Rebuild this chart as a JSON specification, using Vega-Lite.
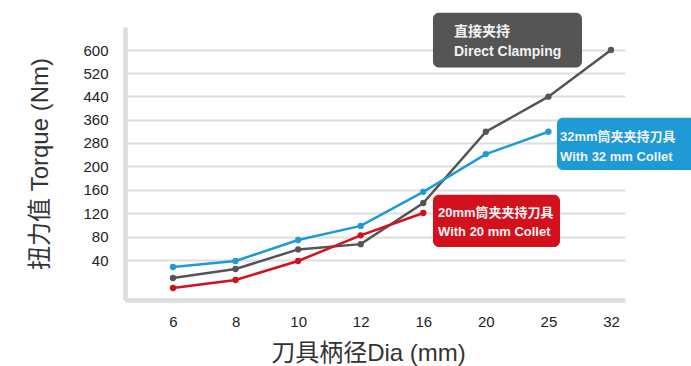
{
  "$schema": "https://vega.github.io/schema/vega-lite/v6.json",
  "width": 500,
  "height": 273,
  "autosize": "none",
  "padding": {"left": 125, "top": 27, "right": 66, "bottom": 66},
  "background": "white",
  "config": {
    "view": {"stroke": null},
    "axis": {"labelFont": "Liberation Sans, Noto Sans CJK SC", "titleFont": "Liberation Sans, Noto Sans CJK SC"}
  },
  "datasets": {
    "torque": [
      {"dia": "6", "i": 0, "series": "direct", "torque": 22},
      {"dia": "8", "i": 1, "series": "direct", "torque": 31},
      {"dia": "10", "i": 2, "series": "direct", "torque": 58},
      {"dia": "12", "i": 3, "series": "direct", "torque": 67},
      {"dia": "16", "i": 4, "series": "direct", "torque": 137},
      {"dia": "20", "i": 5, "series": "direct", "torque": 318},
      {"dia": "25", "i": 6, "series": "direct", "torque": 439},
      {"dia": "32", "i": 7, "series": "direct", "torque": 600},
      {"dia": "6", "i": 0, "series": "c20", "torque": 12},
      {"dia": "8", "i": 1, "series": "c20", "torque": 20},
      {"dia": "10", "i": 2, "series": "c20", "torque": 39},
      {"dia": "12", "i": 3, "series": "c20", "torque": 82},
      {"dia": "16", "i": 4, "series": "c20", "torque": 120},
      {"dia": "6", "i": 0, "series": "c32", "torque": 33},
      {"dia": "8", "i": 1, "series": "c32", "torque": 39},
      {"dia": "10", "i": 2, "series": "c32", "torque": 74},
      {"dia": "12", "i": 3, "series": "c32", "torque": 98},
      {"dia": "16", "i": 4, "series": "c32", "torque": 156},
      {"dia": "20", "i": 5, "series": "c32", "torque": 241},
      {"dia": "25", "i": 6, "series": "c32", "torque": 318}
    ],
    "boxes": [
      {"series": "direct", "x1": 4.155, "x2": 6.537, "y1": 540, "y2": 728},
      {"series": "c32", "x1": 6.137, "x2": 8.6, "y1": 193, "y2": 366},
      {"series": "c20", "x1": 4.155, "x2": 6.185, "y1": 62, "y2": 151}
    ],
    "labels": [
      {"series": "direct", "x": 4.491, "y": 662, "text": "直接夹持", "size": 14},
      {"series": "direct", "x": 4.491, "y": 593, "text": "Direct Clamping", "size": 14},
      {"series": "c32", "x": 6.185, "y": 300, "text": "32mm筒夹夹持刀具", "size": 13},
      {"series": "c32", "x": 6.185, "y": 231, "text": "With 32 mm Collet", "size": 13},
      {"series": "c20", "x": 4.235, "y": 120, "text": "20mm筒夹夹持刀具", "size": 13},
      {"series": "c20", "x": 4.235, "y": 88, "text": "With 20 mm Collet", "size": 13}
    ]
  },
  "layer": [
    {
      "data": {"name": "torque"},
      "mark": {"type": "line", "strokeWidth": 2.5},
      "encoding": {
        "x": {
          "field": "i", "type": "quantitative",
          "scale": {"domain": [-0.767, 7.224], "nice": false, "zero": false},
          "axis": {
            "values": [0, 1, 2, 3, 4, 5, 6, 7], "tickCount": 20,
            "labelExpr": "['6','8','10','12','16','20','25','32'][datum.value]",
            "grid": false, "ticks": false, "tickSize": 0,
            "domainColor": "#dddddd", "domainWidth": 4.5,
            "labelFontSize": 15, "labelColor": "#222222", "labelPadding": 14,
            "title": "刀具柄径Dia (mm)", "titleFontSize": 24, "titleFontWeight": "normal",
            "titleColor": "#333333", "titleX": 243, "titleY": 53, "titleAnchor": "middle", "titleAlign": "center", "titleBaseline": "middle"
          }
        },
        "y": {
          "field": "torque", "type": "quantitative",
          "scale": {"domain": [0, 40, 200, 600, 679], "range": [273, 233, 139, 23, 0], "nice": false, "zero": false},
          "axis": {
            "values": [40, 80, 120, 160, 200, 280, 360, 440, 520, 600], "tickCount": 20,
            "labelOverlap": false,
            "grid": true, "gridColor": "#dedede", "gridWidth": 2,
            "ticks": false, "tickSize": 0,
            "domainColor": "#dddddd", "domainWidth": 4.5,
            "labelFontSize": 15, "labelColor": "#222222", "labelPadding": 17,
            "title": "扭力值 Torque (Nm)", "titleFontSize": 24, "titleFontWeight": "normal",
            "titleColor": "#333333", "titleX": -85, "titleY": 136.5, "titleAngle": -90, "titleAlign": "center", "titleBaseline": "middle"
          }
        },
        "color": {
          "field": "series", "type": "nominal",
          "scale": {"domain": ["direct", "c32", "c20"], "range": ["#555555", "#1e9ad6", "#d2111c"]},
          "legend": null
        },
        "order": {"field": "i"}
      }
    },
    {
      "data": {"name": "torque"},
      "mark": {"type": "point", "filled": true, "size": 40, "opacity": 1},
      "encoding": {
        "x": {"field": "i", "type": "quantitative"},
        "y": {"field": "torque", "type": "quantitative"},
        "color": {"field": "series", "type": "nominal", "legend": null}
      }
    },
    {
      "data": {"name": "boxes"},
      "mark": {"type": "rect", "cornerRadius": 6},
      "encoding": {
        "x": {"field": "x1", "type": "quantitative"},
        "x2": {"field": "x2"},
        "y": {"field": "y1", "type": "quantitative"},
        "y2": {"field": "y2"},
        "color": {"field": "series", "type": "nominal", "legend": null}
      }
    },
    {
      "data": {"name": "labels"},
      "mark": {"type": "text", "align": "left", "baseline": "middle", "color": "#f2f2f2", "fontWeight": "bold", "font": "Liberation Sans, Noto Sans CJK SC"},
      "encoding": {
        "x": {"field": "x", "type": "quantitative"},
        "y": {"field": "y", "type": "quantitative"},
        "text": {"field": "text"},
        "size": {"field": "size", "type": "quantitative", "scale": null}
      }
    }
  ]
}
